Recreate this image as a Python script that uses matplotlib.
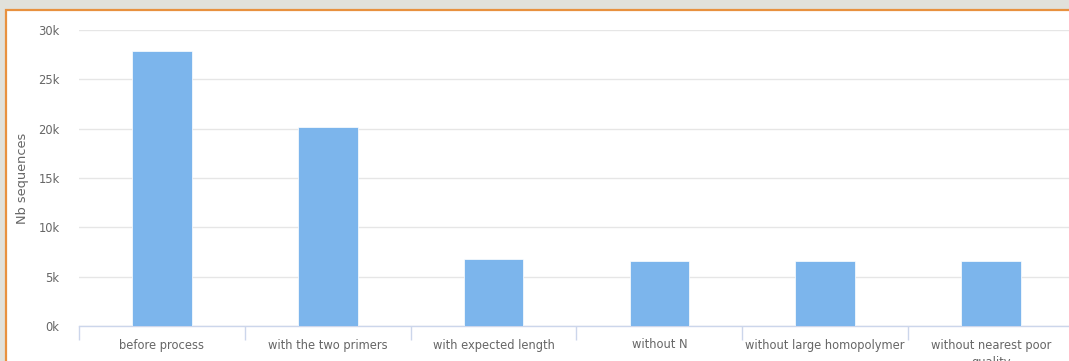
import matplotlib
matplotlib.use("Agg")
import matplotlib.pyplot as plt
from matplotlib.patches import Rectangle
from matplotlib.ticker import FuncFormatter, FixedLocator

# Donnees
categories = ["before process", "with the two primers", "with expected length",
              "without N", "without large homopolymer", "without nearest poor\nquality"]
nb_sequences = [27830, 20170, 6750, 6610, 6610, 6610]
yticks = [0, 5000, 10000, 15000, 20000, 25000, 30000]

W, H = 1069, 361
fig = plt.figure(figsize=(W / 100, H / 100), dpi=100)
fig.patch.set_facecolor("#e1e1db")

# panneau blanc avec bordure orange (coupe a droite et en bas)
fig.patches.append(Rectangle((5.5 / W, -0.1), 1.2, (H - 9.5) / H + 0.1,
                             transform=fig.transFigure, facecolor="white",
                             edgecolor="#e8913f", linewidth=1.6, zorder=-5))

left, right = 79 / W, 1074 / W
bottom, top = (H - 326) / H, (H - 30) / H
ax = fig.add_axes([left, bottom, right - left, top - bottom])
ax.set_facecolor("none")

x = list(range(len(categories)))
ax.bar(x, nb_sequences, width=0.36, color="#7cb5ec", edgecolor="white",
       linewidth=0.5, zorder=3)

ax.set_xlim(-0.5, len(categories) - 0.5)
ax.set_ylim(0, 30000)
ax.set_yticks(yticks)
ax.yaxis.set_major_formatter(FuncFormatter(lambda v, p: f"{int(v / 1000)}k"))
ax.grid(axis="y", color="#e6e6e6", linewidth=1, zorder=0)

ax.set_xticks(x)
ax.set_xticklabels(categories, fontsize=8.3, color="#666666", linespacing=1.45, va="top")
ax.xaxis.set_minor_locator(FixedLocator([i - 0.5 for i in range(len(categories) + 1)]))
ax.tick_params(axis="x", which="major", length=0, pad=9)
ax.tick_params(axis="x", which="minor", length=10, color="#ccd6eb", width=1)
ax.tick_params(axis="y", length=0, pad=14, labelsize=8.3, labelcolor="#666666")

for s in ["top", "right", "left"]:
    ax.spines[s].set_visible(False)
ax.spines["bottom"].set_color("#ccd6eb")
ax.spines["bottom"].set_linewidth(1)

ax.set_ylabel("Nb sequences", fontsize=9.3, color="#666666")
ax.yaxis.set_label_coords((29 - 79) / (1074 - 79), 0.5)

fig.savefig("out.png", dpi=100, facecolor=fig.get_facecolor())
